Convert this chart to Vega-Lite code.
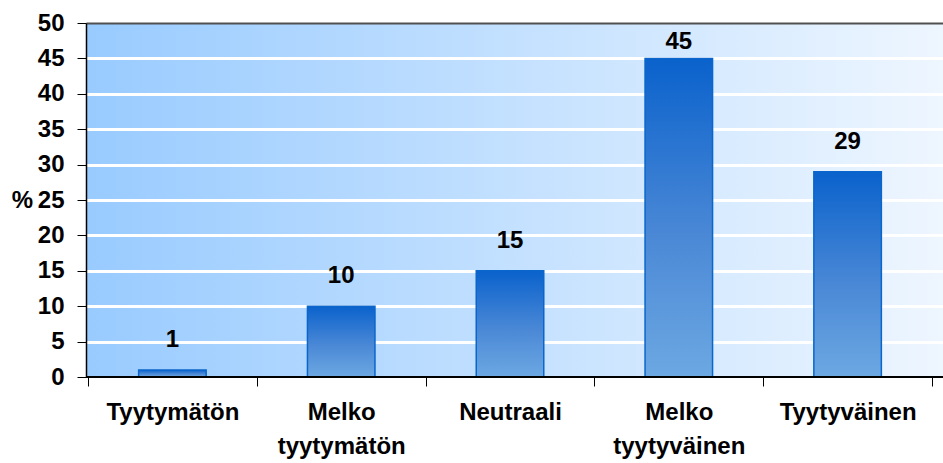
{
  "$schema": "https://vega.github.io/schema/vega-lite/v6.json",
  "autosize": "none",
  "padding": {"left": 86, "top": 23, "right": 0, "bottom": 86},
  "width": 857,
  "height": 354,
  "background": "white",
  "data": {
    "values": [
      {"luokka": "Tyytymätön", "osuus": 1},
      {"luokka": "Melko tyytymätön", "osuus": 10},
      {"luokka": "Neutraali", "osuus": 15},
      {"luokka": "Melko tyytyväinen", "osuus": 45},
      {"luokka": "Tyytyväinen", "osuus": 29}
    ]
  },
  "encoding": {
    "x": {
      "field": "luokka",
      "type": "nominal",
      "sort": null,
      "scale": {"paddingInner": 0, "paddingOuter": 0.0385, "align": 0.154},
      "axis": {
        "title": null,
        "labelAngle": 0,
        "domain": false,
        "tickBand": "extent",
        "tickSize": 9,
        "tickColor": "black",
        "labelFont": "Liberation Sans",
        "labelFontWeight": "bold",
        "labelFontSize": 24,
        "labelColor": "black",
        "labelPadding": 14,
        "labelLineHeight": 34,
        "labelExpr": "split(datum.label, ' ')"
      }
    },
    "y": {
      "field": "osuus",
      "type": "quantitative",
      "scale": {"domain": [0, 50], "nice": false},
      "axis": {
        "values": [0, 5, 10, 15, 20, 25, 30, 35, 40, 45, 50],
        "title": "%",
        "titleAngle": 0,
        "titleAlign": "center",
        "titleBaseline": "middle",
        "titleX": -64,
        "titleY": 177,
        "titleFont": "Liberation Sans",
        "titleFontWeight": "bold",
        "titleFontSize": 24,
        "titleColor": "black",
        "grid": true,
        "gridColor": {"condition": {"test": "datum.value == 50", "value": "#505050"}, "value": "white"},
        "gridWidth": {"condition": {"test": "datum.value == 50", "value": 2}, "value": 3},
        "tickSize": 9,
        "tickColor": "black",
        "domainColor": "black",
        "domainWidth": 1.5,
        "labelFont": "Liberation Sans",
        "labelFontWeight": "bold",
        "labelFontSize": 24,
        "labelColor": "black",
        "labelPadding": 13
      }
    }
  },
  "layer": [
    {
      "mark": {
        "type": "bar",
        "width": {"band": 0.4},
        "stroke": "#0a66cc",
        "strokeWidth": 1.5,
        "color": {
          "gradient": "linear",
          "x1": 0, "y1": 0, "x2": 0, "y2": 1,
          "stops": [
            {"offset": 0, "color": "#0a62cc"},
            {"offset": 0.55, "color": "#4a88d6"},
            {"offset": 1, "color": "#6ca8e2"}
          ]
        }
      }
    },
    {
      "mark": {"type": "rule", "color": "black", "strokeWidth": 1.5},
      "encoding": {"y": {"datum": 0}, "x": null}
    },
    {
      "mark": {
        "type": "text",
        "baseline": "bottom",
        "dy": {"expr": "datum.osuus > 40 ? -4 : -18"},
        "font": "Liberation Sans",
        "fontWeight": "bold",
        "fontSize": 24,
        "color": "black"
      },
      "encoding": {"text": {"field": "osuus", "type": "quantitative"}}
    }
  ],
  "config": {
    "view": {
      "stroke": null,
      "fill": {
        "gradient": "linear",
        "x1": 0, "y1": 0, "x2": 1, "y2": 0,
        "stops": [
          {"offset": 0, "color": "#99cbff"},
          {"offset": 1, "color": "#eef6ff"}
        ]
      }
    }
  }
}
